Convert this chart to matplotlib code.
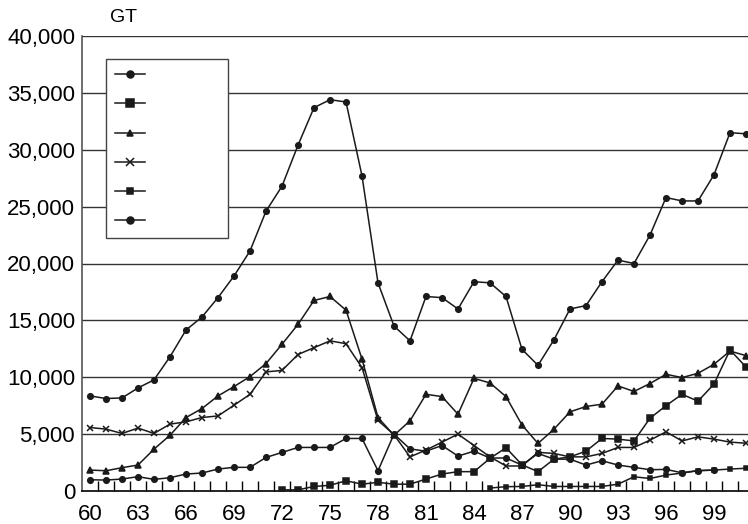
import matplotlib
matplotlib.use("Agg")
import matplotlib.pyplot as plt
import numpy as np
from matplotlib.lines import Line2D

plt.rcParams['font.family'] = ['Liberation Sans', 'DejaVu Sans']

nan = np.nan
years = np.arange(1960, 2002)

# values in GT
series_a = [8360, 8130, 8180, 9060, 9770, 11800, 14150, 15300, 17000, 18900,
            21100, 24600, 26800, 30400, 33700, 34400, 34200, 27700, 18300, 14500,
            13200, 17100, 17000, 16000, 18400, 18300, 17100, 12450, 11050, 13300,
            16000, 16300, 18400, 20300, 20000, 22500, 25800, 25500, 25500, 27800,
            31500, 31400]
series_b = [1840, 1780, 2050, 2280, 3680, 4900, 6460, 7250, 8360, 9180,
            10060, 11200, 12900, 14650, 16750, 17100, 15900, 11600, 6460, 4900,
            6170, 8500, 8300, 6750, 9900, 9500, 8300, 5800, 4180, 5440,
            6960, 7430, 7630, 9240, 8750, 9450, 10260, 9970, 10350, 11140,
            12300, 11900]
series_c = [nan] * 12 + [
            100, 100, 400, 500, 900, 600, 760, 600,
            600, 1050, 1490, 1700, 1700, 2870, 3800, 2300, 1700, 2800,
            3000, 3500, 4620, 4560, 4400, 6400, 7500, 8500, 7900, 9400,
            12400, 10900]
series_d = [5580, 5440, 5060, 5530, 5060, 5880, 6080, 6460, 6600, 7540,
            8500, 10470, 10600, 12000, 12600, 13200, 12950, 10850, 6200, 4950,
            3000, 3600, 4300, 5000, 4000, 3000, 2200, 2200, 3400, 3300,
            3000, 3000, 3300, 3830, 3830, 4470, 5200, 4400, 4760, 4560,
            4300, 4200]
series_e = [nan] * 25 + [
            260, 380, 400, 550, 400,
            400, 400, 400, 600, 1250, 1100, 1400, 1580, 1780, 1840,
            1930, 2000]
series_f = [990, 960, 1050, 1260, 1020, 1170, 1490, 1580, 1930, 2080,
            2080, 2950, 3390, 3830, 3830, 3830, 4620, 4620, 1780, 5000,
            3700, 3500, 4000, 3070, 3500, 2900, 2900, 2280, 3300, 2800,
            2800, 2280, 2660, 2280, 2080, 1870, 1900, 1600, 1800, 1840,
            nan, nan]

all_series = [series_a, series_c, series_b, series_d, series_e, series_f]
markers = ['o', 's', '^', 'x', 's', 'o']
msizes = [4, 4.5, 4, 4.5, 3.5, 4]

y_ticks = list(range(0, 40001, 5000))
y_labels = [f"{v:,}" for v in y_ticks]
x_label_years = list(range(1960, 2000, 3))
x_labels = [f"{y % 100:02d}" for y in x_label_years]

fig = plt.figure(figsize=(7.48, 5.24), dpi=100)
ax = fig.add_axes([82 / 748, 33 / 524, 672 / 748, 455 / 524])

handles = []
for vals, mk, ms in zip(all_series, markers, msizes):
    ax.plot(years, vals, color='#1a1a1a', lw=1.1, marker=mk,
            markersize=ms, markeredgewidth=1.1, zorder=3)
    handles.append(Line2D([], [], color='#1a1a1a', lw=1.1, marker=mk,
                          markersize=ms + 1, markeredgewidth=1.1))

ax.set_xlim(1959.5, 2001.5)
ax.set_ylim(0, 40000)

ax.set_yticks(y_ticks)
ax.set_yticklabels(y_labels, fontsize=16)
ax.tick_params(axis='y', length=0, pad=5)

ax.set_xticks(x_label_years)
ax.set_xticklabels(x_labels, fontsize=16)
ax.set_xticks(np.arange(1960.5, 2001.5, 1), minor=True)
ax.tick_params(axis='x', which='major', length=0, pad=9)
ax.tick_params(axis='x', which='minor', direction='in', length=7, width=1,
               color='black')

for v in y_ticks[1:]:
    ax.axhline(v, color='#333333', lw=1.0, zorder=1)

ax.spines['top'].set_visible(False)
ax.spines['right'].set_visible(False)
ax.spines['left'].set_color('#555555')
ax.spines['left'].set_linewidth(1.2)
ax.spines['bottom'].set_color('black')
ax.spines['bottom'].set_linewidth(1.2)

leg = ax.legend(handles, [' ' * 13] * 6, loc='upper left',
                bbox_to_anchor=(24 / 672, 432 / 455), borderaxespad=0,
                fontsize=12, handlelength=1.8, handletextpad=0.8,
                borderpad=0.55, labelspacing=0.85, fancybox=False,
                framealpha=1, edgecolor='#444444')
leg.get_frame().set_linewidth(1.0)

fig.text(124 / 748, 1 - 18 / 524, 'GT', ha='center', va='center', fontsize=14)

fig.savefig('out.png', dpi=100)
